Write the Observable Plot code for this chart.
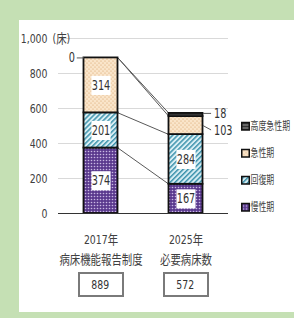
<!DOCTYPE html>
<html><head><meta charset="utf-8">
<script src="https://cdn.jsdelivr.net/npm/d3@7"></script>
<script src="https://cdn.jsdelivr.net/npm/@observablehq/plot@0.6"></script>
<style>
body{margin:0;width:294px;height:318px;background:#c5e0b4;position:relative;overflow:hidden;font-family:"DejaVu Sans Condensed","Noto Sans CJK JP",sans-serif;color:#404040}
#panel{position:absolute;left:19px;top:20px;width:275px;height:292px;background:#fff}
#chart{position:absolute;left:0;top:0}
.total{position:absolute;top:272px;width:42px;height:21px;border:2px solid #7a7a7a;box-sizing:content-box;text-align:center;line-height:21px;font-size:13px;color:#333;background:#fff}
.total span{display:inline-block;transform:scaleX(0.8);transform-origin:center}
#legend{position:absolute;left:239px;top:113px}
#legend svg{display:block}
</style></head>
<body>
<svg width="0" height="0" style="position:absolute"><defs>
<pattern id="pChronic" width="3" height="3" patternUnits="userSpaceOnUse"><rect width="3" height="3" fill="#5b3a8e"/><circle cx="1.5" cy="1.5" r="0.8" fill="#c9b8e3"/></pattern>
<pattern id="pRecovery" width="3.5" height="3.5" patternUnits="userSpaceOnUse" patternTransform="rotate(45)"><rect width="3.5" height="3.5" fill="#d8eef4"/><rect width="1.5" height="3.5" fill="#3f94ad"/></pattern>
<pattern id="pAcute" width="4" height="4" patternUnits="userSpaceOnUse"><rect width="4" height="4" fill="#fae5ca"/><circle cx="1" cy="1" r="0.6" fill="#d6a067"/><circle cx="3" cy="3" r="0.6" fill="#d6a067"/></pattern>
<pattern id="pHigh" width="3" height="3" patternUnits="userSpaceOnUse"><rect width="3" height="3" fill="#333"/><rect y="1" width="3" height="1" fill="#999"/></pattern>
</defs></svg>
<div id="panel"></div>
<div id="chart"></div>
<div id="legend"></div>
<script>
// ---- data ----
const years = ["2017年", "2025年"];
const sources = ["病床機能報告制度", "必要病床数"];
const seriesNames = ["慢性期", "回復期", "急性期", "高度急性期"]; // bottom -> top
const values2017 = [374, 201, 314, 0];
const values2025 = [167, 284, 103, 18];
const yTicks = [0, 200, 400, 600, 800, 1000];
const yUnit = "(床)";

// ---- styles ----
const fills = {"慢性期": "url(#pChronic)", "回復期": "url(#pRecovery)", "急性期": "url(#pAcute)", "高度急性期": "url(#pHigh)"};
const hw = 0.2; // half bar width in category units
const squeeze = 0.8;

const allValues = [values2017, values2025];
const rows = [];
const tops = [[], []];
allValues.forEach((vals, i) => {
  let c = 0;
  vals.forEach((v, j) => {
    rows.push({i, series: seriesNames[j], value: v, y1: c, y2: c + v, mid: c + v / 2});
    c += v;
    tops[i].push(c);
  });
});
const totals = allValues.map(v => d3.sum(v));
const links = seriesNames.map((s, j) => ({y1: tops[0][j], y2: tops[1][j]}));
const inside = rows.filter(d => d.value >= 150);
const zeroLabel = rows.filter(d => d.i === 0 && d.value < 150);
const smallTop = rows.filter(d => d.i === 1 && d.series === "高度急性期");
const smallMid = rows.filter(d => d.i === 1 && d.series === "急性期");

const plot = Plot.plot({
  width: 294, height: 318,
  marginTop: 38, marginBottom: 105, marginLeft: 58, marginRight: 66,
  style: {fontFamily: '"DejaVu Sans Condensed","Noto Sans CJK JP",sans-serif', fontSize: "13px", color: "#404040", background: "transparent", overflow: "visible"},
  x: {type: "linear", domain: [-0.5, 1.5], label: null},
  y: {domain: [0, 1000], label: null},
  marks: [
    Plot.gridY(yTicks, {stroke: "#d9d9d9", strokeOpacity: 1}),
    Plot.axisY(yTicks, {tickSize: 0, tickPadding: 11, tickFormat: d3.format(","), fontSize: 13, label: null}),
    Plot.text([yUnit], {frameAnchor: "top-left", dx: -6, textAnchor: "start", lineAnchor: "middle", fontSize: 13}),
    Plot.axisX([0, 1], {tickSize: 0, tickPadding: 17, tickFormat: i => years[i] + "\n" + sources[i], lineHeight: 1.5, fontSize: 13, label: null}),
    Plot.link(links, {x1: () => 0 + hw, x2: () => 1 - hw, y1: "y1", y2: "y2", stroke: "#595959", strokeWidth: 1}),
    ...seriesNames.map(s => Plot.rect(rows.filter(r => r.series === s), {
      x1: d => d.i - hw, x2: d => d.i + hw, y1: "y1", y2: "y2",
      fill: fills[s], stroke: "#111", strokeWidth: 1.8
    })),
    Plot.ruleY([0], {stroke: "#333", strokeWidth: 1.2}),
    Plot.dot(inside, {x: "i", y: "mid", symbol: "square", r: 10.8, fill: "white"}),
    Plot.text(inside, {x: "i", y: "mid", text: "value", fontSize: 13.5, fill: "#333"}),
    // outside labels with leaders
    Plot.link(zeroLabel, {x1: d => d.i - hw, x2: d => d.i - hw - 0.085, y1: "y2", y2: "y2", stroke: "#595959"}),
    Plot.text(zeroLabel, {x: d => d.i - hw, y: "y2", text: "value", dx: -9, textAnchor: "end", fontSize: 13.5, fill: "#333"}),
    Plot.link(smallTop, {x1: d => d.i + hw, x2: d => d.i + hw + 0.095, y1: "y2", y2: "y2", stroke: "#595959"}),
    Plot.text(smallTop, {x: d => d.i + hw, y: "y2", text: "value", dx: 11, textAnchor: "start", fontSize: 13.5, fill: "#333"}),
    Plot.link(smallMid, {x1: d => d.i + hw, x2: d => d.i + hw + 0.095, y1: "mid", y2: d => d.mid - 25, stroke: "#595959"}),
    Plot.text(smallMid, {x: d => d.i + hw, y: "mid", text: "value", dx: 11, dy: 5, textAnchor: "start", fontSize: 13.5, fill: "#333"})
  ]
});
document.getElementById("chart").appendChild(plot);

function condense(root, f) {
  root.querySelectorAll("text").forEach(t => {
    const spans = t.querySelectorAll("tspan");
    const els = spans.length ? Array.from(spans) : [t];
    els.forEach(e => {
      const L = e.getComputedTextLength();
      if (L > 0) { e.setAttribute("textLength", L * f); e.setAttribute("lengthAdjust", "spacingAndGlyphs"); }
    });
  });
}
condense(plot, squeeze);

// totals boxes
const xs = plot.scale("x");
totals.forEach((t, i) => {
  const b = document.createElement("div");
  b.className = "total";
  b.innerHTML = `<span>${t}</span>`;
  b.style.left = (xs.apply(i) - 23) + "px";
  document.body.appendChild(b);
});

// legend (top to bottom); text narrowed with a geometric scale
const legendItems = seriesNames.slice().reverse();
const legendSqueeze = 0.72;
const lsvg = d3.select("#legend").append("svg").attr("width", 55).attr("height", 108)
  .style("font-family", '"DejaVu Sans Condensed","Noto Sans CJK JP",sans-serif').style("font-size", "11px");
const item = lsvg.selectAll("g").data(legendItems).join("g").attr("transform", (d, k) => `translate(0,${13.5 + k * 27})`);
item.append("rect").attr("x", 2.75).attr("y", -4).attr("width", 7.5).attr("height", 7.5)
  .attr("fill", d => fills[d]).attr("stroke", "#111").attr("stroke-width", 1.5);
item.append("g").attr("transform", `translate(11.5,0) scale(${legendSqueeze},1)`)
  .append("text").attr("dy", "0.35em").attr("fill", "#404040").text(d => d);
</script>
</body></html>
